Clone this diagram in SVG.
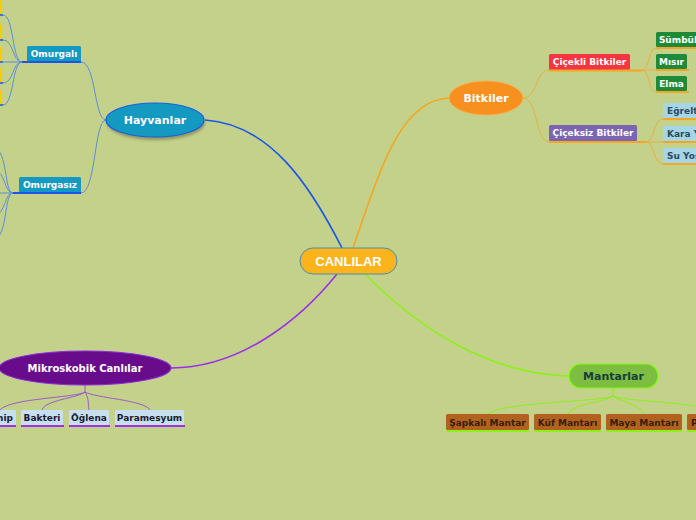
<svg xmlns="http://www.w3.org/2000/svg" width="696" height="520" viewBox="0 0 696 520">
<style>
.t{font-family:"DejaVu Sans",Verdana,sans-serif;font-weight:bold;text-anchor:middle;dominant-baseline:central}
.s9{font-size:9px}
.w{fill:#ffffff}
.c{fill:none}
.ul{stroke-width:2;fill:none}
</style>
<defs>
<filter id="sh" x="-20%" y="-30%" width="140%" height="170%"><feGaussianBlur stdDeviation="1.5"/></filter>
</defs>
<rect width="696" height="520" fill="#c3d18b"/>
<g id="connectors">
<path class="c" d="M205,120 C270,124 310,185 342,248" stroke="#1a55e8" stroke-width="1.6"/>
<path class="c" d="M353,248 C380,170 400,100 449,98" stroke="#f5a623" stroke-width="1.6"/>
<path class="c" d="M365,274 C420,330 490,374 569,376" stroke="#8cf01a" stroke-width="1.6"/>
<path class="c" d="M337,274 C300,320 240,368 171,368" stroke="#9b30e8" stroke-width="1.6"/>
<g stroke="#5b8fd8" stroke-width="1" fill="none">
<path d="M106,120 C94,120 96,62 81,62"/>
<path d="M106,120 C94,120 96,193 81,193"/>
<path d="M22,62 C12,62 14,15 3,15"/>
<path d="M22,62 C12,62 14,40 3,40"/>
<path d="M22,62 L3,62"/>
<path d="M22,62 C12,62 14,83 3,83"/>
<path d="M22,62 C12,62 14,105 3,105"/>
<path d="M13,193 C4,193 8,150 -6,148"/>
<path d="M13,193 C4,193 6,172 -6,170"/>
<path d="M13,193 L-6,193"/>
<path d="M13,193 C4,193 6,214 -6,216"/>
<path d="M13,193 C4,193 8,236 -6,240"/>
</g>
<g stroke="#e8b040" stroke-width="1" fill="none">
<path d="M523,98 C538,98 535,70 549,70"/>
<path d="M523,98 C538,98 535,142 549,142"/>
<path d="M642,70 C650,70 648,48 656,48"/>
<path d="M642,70 L656,70"/>
<path d="M642,70 C650,70 648,92 656,92"/>
<path d="M646,142 C655,142 653,119 663,119"/>
<path d="M646,142 L663,142"/>
<path d="M646,142 C655,142 653,164 663,164"/>
</g>
<g stroke="#8cf01a" stroke-width="1" fill="none">
<path d="M613,388 L613,396 C600,402 500,402 488,414"/>
<path d="M613,396 C605,402 572,404 568,414"/>
<path d="M613,396 C621,402 640,404 644,414"/>
<path d="M613,396 C626,402 710,402 720,414"/>
</g>
<g stroke="#9b5cc8" stroke-width="1" fill="none">
<path d="M85,385 L85,392 C75,398 10,398 0,410"/>
<path d="M85,392 C78,398 45,400 42,410"/>
<path d="M85,392 C89,398 88,404 89,410"/>
<path d="M85,392 C95,398 145,400 150,410"/>
</g>
</g>
<g id="canlilar">
<rect x="300" y="248" width="97" height="26" rx="13" fill="#fbb41b" stroke="#4a8fb0" stroke-width="1"/>
<text class="t w" x="348.5" y="261" style="font-family:'Liberation Sans',Arial,sans-serif;font-size:13px">CANLILAR</text>
</g>
<g id="hayvanlar">
<ellipse cx="156" cy="123" rx="49" ry="17" fill="#5a5a30" opacity="0.5" filter="url(#sh)"/>
<ellipse cx="155" cy="120" rx="49" ry="17" fill="#1499c0" stroke="#1a5fe0" stroke-width="1.2"/>
<text class="t w" x="155" y="120" font-size="11">Hayvanlar</text>
</g>
<g id="omurgali">
<rect x="27" y="46" width="54" height="16" rx="1.5" fill="#1499c0"/>
<line class="ul" x1="22" y1="62" x2="81" y2="62" stroke="#1a55e8"/>
<text class="t s9 w" x="54" y="54">Omurgalı</text>
</g>
<g id="omurgali-children" fill="#f5d000">
<rect x="-4" y="0" width="6" height="15"/>
<rect x="-4" y="24" width="6" height="15"/>
<rect x="-4" y="47" width="6" height="15"/>
<rect x="-4" y="68" width="6" height="15"/>
<rect x="-4" y="90" width="6" height="15"/>
<g stroke="#1a55e8" stroke-width="1.5">
<line x1="0" y1="15" x2="3" y2="15"/>
<line x1="0" y1="40" x2="3" y2="40"/>
<line x1="0" y1="62" x2="3" y2="62"/>
<line x1="0" y1="83" x2="3" y2="83"/>
<line x1="0" y1="105" x2="3" y2="105"/>
</g>
</g>
<g id="omurgasiz">
<rect x="19" y="177" width="62" height="16" rx="1.5" fill="#1499c0"/>
<line class="ul" x1="13" y1="193" x2="81" y2="193" stroke="#1a55e8"/>
<text class="t s9 w" x="50" y="185">Omurgasız</text>
</g>
<g id="bitkiler">
<ellipse cx="486" cy="98" rx="37" ry="17" fill="#f7901e" stroke="#f9b04a" stroke-width="1"/>
<text class="t w" x="486" y="98" font-size="11">Bitkiler</text>
</g>
<g id="cicekli">
<rect x="549" y="54" width="81" height="16" rx="1.5" fill="#f5353f"/>
<line class="ul" x1="549" y1="70.5" x2="642" y2="70.5" stroke="#f5a623"/>
<text class="t s9 w" x="589.5" y="62">Çiçekli Bitkiler</text>
</g>
<g id="ciceksiz">
<rect x="549" y="125" width="88" height="16" rx="1.5" fill="#7b65b0"/>
<line class="ul" x1="549" y1="142" x2="646" y2="142" stroke="#f5a623"/>
<text class="t s9 w" x="593" y="133">Çiçeksiz Bitkiler</text>
</g>
<g id="sumbul">
<rect x="656" y="32" width="45" height="15" rx="1.5" fill="#1e8a38"/>
<line class="ul" x1="656" y1="48" x2="700" y2="48" stroke="#f5a623"/>
<text class="t s9 w" x="678" y="39.5">Sümbül</text>
</g>
<g id="misir">
<rect x="656" y="54" width="31" height="15" rx="1.5" fill="#1e8a38"/>
<line class="ul" x1="656" y1="70" x2="689" y2="70" stroke="#f5a623"/>
<text class="t s9 w" x="671.5" y="61.5">Mısır</text>
</g>
<g id="elma">
<rect x="656" y="76" width="31" height="15" rx="1.5" fill="#1e8a38"/>
<line class="ul" x1="656" y1="92" x2="689" y2="92" stroke="#f5a623"/>
<text class="t s9 w" x="671.5" y="83.5">Elma</text>
</g>
<g id="egrelti">
<rect x="663" y="103" width="70" height="15" rx="1.5" fill="#a6d6e6"/>
<line class="ul" x1="663" y1="119" x2="733" y2="119" stroke="#f5a623"/>
<text class="t s9" x="667" y="110.5" style="text-anchor:start" fill="#2c4a5e">Eğrelti Otu</text>
</g>
<g id="karayosunu">
<rect x="663" y="126" width="70" height="15" rx="1.5" fill="#a6d6e6"/>
<line class="ul" x1="663" y1="142" x2="733" y2="142" stroke="#f5a623"/>
<text class="t s9" x="667" y="133.5" style="text-anchor:start" fill="#2c4a5e">Kara Yosunu</text>
</g>
<g id="suyosunu">
<rect x="663" y="148" width="70" height="15" rx="1.5" fill="#a6d6e6"/>
<line class="ul" x1="663" y1="164" x2="733" y2="164" stroke="#f5a623"/>
<text class="t s9" x="667" y="155.5" style="text-anchor:start" fill="#2c4a5e">Su Yosunu</text>
</g>
<g id="mantarlar">
<rect x="569" y="364" width="89" height="24" rx="12" fill="#7cbd42" stroke="#7fff00" stroke-width="1.2"/>
<text class="t" x="613.5" y="376" font-size="11" fill="#1a3d3a">Mantarlar</text>
</g>
<g id="sapkali">
<rect x="446" y="414" width="83" height="16" rx="1.5" fill="#b0621e"/>
<line class="ul" x1="446" y1="431" x2="529" y2="431" stroke="#8cf01a"/>
<text class="t s9" x="487.5" y="422.5" fill="#3a1e0a">Şapkalı Mantar</text>
</g>
<g id="kuf">
<rect x="534" y="414" width="67" height="16" rx="1.5" fill="#b0621e"/>
<line class="ul" x1="534" y1="431" x2="601" y2="431" stroke="#8cf01a"/>
<text class="t s9" x="567.5" y="422.5" fill="#3a1e0a">Küf Mantarı</text>
</g>
<g id="maya">
<rect x="606" y="414" width="76" height="16" rx="1.5" fill="#b0621e"/>
<line class="ul" x1="606" y1="431" x2="682" y2="431" stroke="#8cf01a"/>
<text class="t s9" x="644" y="422.5" fill="#3a1e0a">Maya Mantarı</text>
</g>
<g id="pas">
<rect x="687" y="414" width="70" height="16" rx="1.5" fill="#b0621e"/>
<line class="ul" x1="687" y1="431" x2="757" y2="431" stroke="#8cf01a"/>
<text class="t s9" x="691" y="422.5" style="text-anchor:start" fill="#3a1e0a">Pas Mantarı</text>
</g>
<g id="mikroskobik">
<ellipse cx="85" cy="368" rx="86" ry="17" fill="#690c8c" stroke="#8b2be2" stroke-width="1.2"/>
<text class="t w" x="85" y="368" font-size="10">Mikroskobik Canlılar</text>
</g>
<g id="amip">
<rect x="-20" y="410" width="36" height="15" rx="1.5" fill="#c6e0f0"/>
<line class="ul" x1="-20" y1="426" x2="16" y2="426" stroke="#a030e0"/>
<text class="t s9" x="13" y="417.5" style="text-anchor:end" fill="#1a1a2e">Amip</text>
</g>
<g id="bakteri">
<rect x="21" y="410" width="42" height="15" rx="1.5" fill="#c6e0f0"/>
<line class="ul" x1="21" y1="426" x2="64" y2="426" stroke="#a030e0"/>
<text class="t s9" x="42" y="417.5" fill="#1a1a2e">Bakteri</text>
</g>
<g id="oglena">
<rect x="69" y="410" width="40" height="15" rx="1.5" fill="#c6e0f0"/>
<line class="ul" x1="69" y1="426" x2="110" y2="426" stroke="#a030e0"/>
<text class="t s9" x="89" y="417.5" fill="#1a1a2e">Öğlena</text>
</g>
<g id="paramesyum">
<rect x="115" y="410" width="69" height="15" rx="1.5" fill="#c6e0f0"/>
<line class="ul" x1="115" y1="426" x2="185" y2="426" stroke="#a030e0"/>
<text class="t s9" x="149.5" y="417.5" fill="#1a1a2e">Paramesyum</text>
</g>
</svg>
